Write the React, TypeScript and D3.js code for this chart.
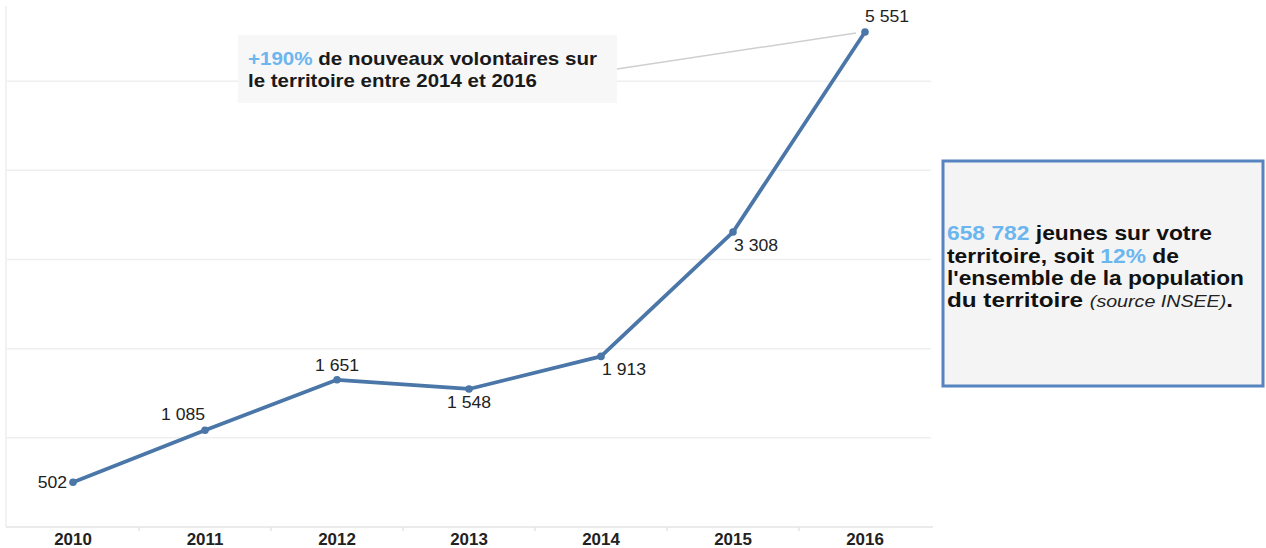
import React from "react";
import * as d3 from "d3";

const years = ["2010", "2011", "2012", "2013", "2014", "2015", "2016"];
const volunteers = [502, 1085, 1651, 1548, 1913, 3308, 5551];
const valueLabels = ["502", "1 085", "1 651", "1 548", "1 913", "3 308", "5 551"];
// where each value label sits relative to its point
const labelPlacement = ["left", "aboveLeft", "above", "below", "belowRight", "belowRight", "aboveRight"];
const gridValues = [1000, 2000, 3000, 4000, 5000];

const W = 1266;
const H = 548;
const FONT = "Arial, 'Liberation Sans', sans-serif";
const LINE = "#4a76a8";
const BLUE_TXT = "#6cb6ef";
const STRETCH = 1.1; // the source picture is a bit wider than tall

export default function App() {
  const x = d3.scaleBand().domain(years).range([7, 931]);
  const y = d3.scaleLinear().domain([0, 6000]).range([527, -8]);
  const cx = (yr: string) => (x(yr) as number) + x.bandwidth() / 2;

  const line = d3
    .line<number>()
    .x((_, i) => cx(years[i]))
    .y((v) => y(v));

  return (
    <svg width={W} height={H} style={{ position: "absolute", left: 0, top: 0, background: "#fff" }} fontFamily={FONT}>
      {/* grid */}
      {gridValues.map((g) => (
        <line key={g} x1={7} x2={931} y1={y(g)} y2={y(g)} stroke="#efefef" strokeWidth={1.5} />
      ))}
      <line x1={6} x2={6} y1={6} y2={527} stroke="#eeeeee" strokeWidth={1.5} />
      <line x1={6} x2={933} y1={527} y2={527} stroke="#e4e4e4" strokeWidth={1.5} />
      {years.slice(1).map((yr) => (
        <line key={yr} x1={x(yr)} x2={x(yr)} y1={527} y2={531} stroke="#e4e4e4" strokeWidth={1.5} />
      ))}
      {years.map((yr) => (
        <text
          key={yr}
          transform={`translate(${cx(yr)},545) scale(1.06,1)`}
          textAnchor="middle"
          fontSize={16}
          fontWeight="bold"
          fill="#222"
        >
          {yr}
        </text>
      ))}

      {/* connector to callout */}
      <line x1={617} y1={69} x2={856} y2={33} stroke="#cfcfcf" strokeWidth={1.5} />

      {/* series */}
      <path d={line(volunteers) || ""} fill="none" stroke={LINE} strokeWidth={3.8} strokeLinejoin="round" />
      {volunteers.map((v, i) => (
        <circle key={i} cx={cx(years[i])} cy={y(v)} r={3.8} fill={LINE} />
      ))}
      {volunteers.map((v, i) => {
        const px = cx(years[i]);
        const py = y(v);
        const p = labelPlacement[i];
        let tx = px;
        let ty = py;
        let anchor: "start" | "middle" | "end" = "middle";
        if (p === "left") { tx = px - 6; ty = py + 6; anchor = "end"; }
        else if (p === "aboveLeft") { tx = px - 22; ty = py - 10; }
        else if (p === "above") { ty = py - 9; }
        else if (p === "below") { ty = py + 19; }
        else if (p === "belowRight") { tx = px + 1; ty = py + 19; anchor = "start"; }
        else if (p === "aboveRight") { tx = px; ty = py - 10; anchor = "start"; }
        return (
          <text
            key={i}
            transform={`translate(${tx},${ty}) scale(${STRETCH},1)`}
            textAnchor={anchor}
            fontSize={16}
            fill="#222"
          >
            {valueLabels[i]}
          </text>
        );
      })}

      {/* callout 1 */}
      <rect x={238} y={35} width={379} height={68} fill="#f7f7f7" />
      <g fontSize={19} fontWeight="bold" fill="#1a1a1a">
        <text x={248} y={65} textLength={349} lengthAdjust="spacingAndGlyphs">
          <tspan fill={BLUE_TXT}>+190%</tspan> de nouveaux volontaires sur
        </text>
        <text x={248} y={87} textLength={289} lengthAdjust="spacingAndGlyphs">
          le territoire entre 2014 et 2016
        </text>
      </g>

      {/* callout 2 */}
      <rect x={943} y={161} width={320} height={225} fill="#f4f4f4" stroke="#5584c0" strokeWidth={3} />
      <g fontSize={21} fontWeight="bold" fill="#111">
        <text x={947} y={240} textLength={265} lengthAdjust="spacingAndGlyphs">
          <tspan fill={BLUE_TXT}>658 782</tspan> jeunes sur votre
        </text>
        <text x={947} y={262.5} textLength={232} lengthAdjust="spacingAndGlyphs">
          territoire, soit <tspan fill={BLUE_TXT}>12%</tspan> de
        </text>
        <text x={947} y={284.5} textLength={297} lengthAdjust="spacingAndGlyphs">
          l'ensemble de la population
        </text>
        <text x={947} y={307} textLength={286} lengthAdjust="spacingAndGlyphs">
          du territoire <tspan fontWeight="normal" fontStyle="italic" fontSize={17} fill="#222">(source INSEE)</tspan>.
        </text>
      </g>
    </svg>
  );
}
